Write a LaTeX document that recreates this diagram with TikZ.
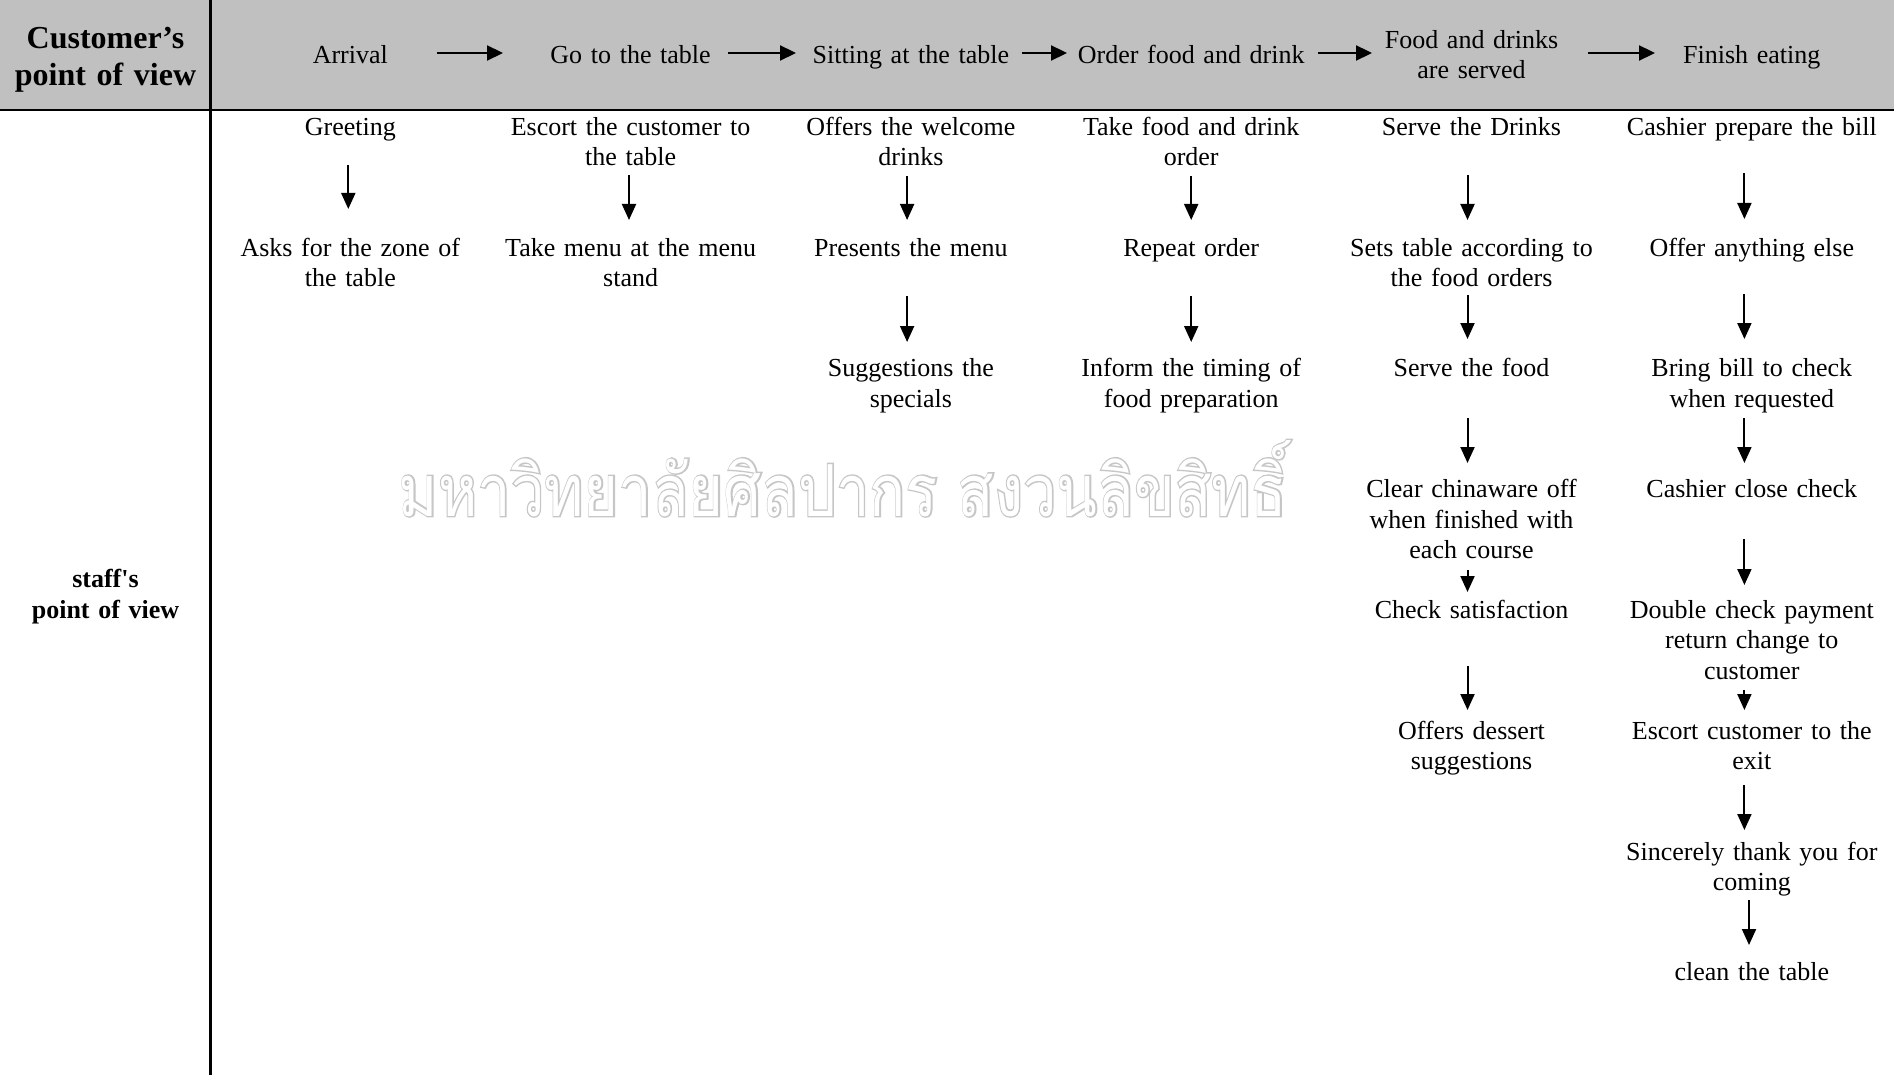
\documentclass[tikz,border=0pt]{standalone}
\usepackage{fontspec}
\usepackage{graphicx}
\setmainfont{Liberation Serif}
\newfontfamily\thaifont[Script=Thai]{Loma}
\newfontfamily\thaibold[Script=Thai,FakeBold=4]{Loma}
\usetikzlibrary{arrows.meta}
\definecolor{headgray}{HTML}{C0C0C0}
\definecolor{wmgray}{HTML}{C6C6C6}
\newcommand{\wmtext}{มหาวิทยาลัยศิลปากร สงวนลิขสิทธิ์}
\begin{document}
\begin{tikzpicture}[x=1pt,y=-1pt,
  stxt/.style={anchor=north, inner sep=0pt, text width=280pt, align=center,
    font=\fontsize{26}{30.5}\selectfont,
    execute at begin node=\strut, execute at end node=\strut},
  htxt/.style={stxt, anchor=center},
  lhead/.style={anchor=center, inner sep=0pt, text width=205pt, align=center,
    font=\bfseries\fontsize{32}{37}\selectfont,
    execute at begin node=\strut, execute at end node=\strut},
  lstaff/.style={lhead, font=\bfseries\fontsize{26}{30.5}\selectfont},
  varrow/.style={line width=2pt, -{Triangle[length=16pt,width=14pt]}},
  harrow/.style={line width=2.2pt, -{Triangle[length=16pt,width=15pt]}},
  tabline/.style={line width=2.3pt},
  wmark/.style={anchor=base, inner sep=0pt}
]
\useasboundingbox (0,0) rectangle (1894,1075);
% header band and table rules
\fill[headgray] (0,0) rectangle (1894,110);
\draw[tabline] (0,110) -- (1894,110);
\draw[tabline] (210.5,0) -- (210.5,1075);

% watermark (outlined letters: grey emboldened copy under a white copy)
\node[wmark, text=wmgray] (wm) at (843,516)
  {\resizebox{888pt}{76pt}{\thaibold\wmtext}};
\node[wmark, text=white] (wmin) at (843,516)
  {\resizebox{888pt}{76pt}{\thaifont\wmtext}};

% left column labels
\node[lhead] (cust) at (105.5,60) {Customer’s\\ point of view};
\node[lstaff] (staff) at (105.5,597) {staff\textquotesingle s\\ point of view};

% customer's steps
\node[htxt] (h1) at (350.3,57.6) {Arrival};
\node[htxt] (h2) at (630.6,57.6) {Go to the table};
\node[htxt] (h3) at (910.9,57.6) {Sitting at the table};
\node[htxt] (h4) at (1191.2,57.6) {Order food and drink};
\node[htxt] (h5) at (1471.5,57.6) {Food and drinks\\ are served};
\node[htxt] (h6) at (1751.8,57.6) {Finish eating};

\draw[harrow, shorten <=86.7pt, shorten >=127.6pt] ([yshift=4.6pt]h1.center) -- ([yshift=4.6pt]h2.center);
\draw[harrow, shorten <=97.4pt, shorten >=114.9pt] ([yshift=4.6pt]h2.center) -- ([yshift=4.6pt]h3.center);
\draw[harrow, shorten <=111.1pt, shorten >=124.2pt] ([yshift=4.6pt]h3.center) -- ([yshift=4.6pt]h4.center);
\draw[harrow, shorten <=126.8pt, shorten >=99.5pt] ([yshift=4.6pt]h4.center) -- ([yshift=4.6pt]h5.center);
\draw[harrow, shorten <=116.5pt, shorten >=96.8pt] ([yshift=4.6pt]h5.center) -- ([yshift=4.6pt]h6.center);

% column 1
\node[stxt] (a1) at (350.3,113.7) {Greeting};
\node[stxt] (a2) at (350.3,234.5) {Asks for the zone of\\ the table};
\draw[varrow, shorten <=20.8pt, shorten >=25.5pt] ([xshift=-2pt]a1.south) -- ([xshift=-2pt]a2.north);

% column 2
\node[stxt] (b1) at (630.6,113.7) {Escort the customer to\\ the table};
\node[stxt] (b2) at (630.6,234.5) {Take menu at the menu\\ stand};
\draw[varrow, shorten <=0.3pt, shorten >=14.5pt] ([xshift=-1.6pt]b1.south) -- ([xshift=-1.6pt]b2.north);

% column 3
\node[stxt] (c1) at (910.9,113.7) {Offers the welcome\\ drinks};
\node[stxt] (c2) at (910.9,234.5) {Presents the menu};
\node[stxt] (c3) at (910.9,355.3) {Suggestions the\\ specials};
\draw[varrow, shorten <=1.3pt, shorten >=14.5pt] ([xshift=-3.8pt]c1.south) -- ([xshift=-3.8pt]c2.north);
\draw[varrow, shorten <=31pt, shorten >=13.3pt] ([xshift=-3.8pt]c2.south) -- ([xshift=-3.8pt]c3.north);

% column 4
\node[stxt] (d1) at (1191.2,113.7) {Take food and drink\\ order};
\node[stxt] (d2) at (1191.2,234.5) {Repeat order};
\node[stxt] (d3) at (1191.2,355.3) {Inform the timing of\\ food preparation};
\draw[varrow, shorten <=1.3pt, shorten >=14.5pt] (d1.south) -- (d2.north);
\draw[varrow, shorten <=31pt, shorten >=13.3pt] (d2.south) -- (d3.north);

% column 5
\node[stxt] (e1) at (1471.5,113.7) {Serve the Drinks};
\node[stxt] (e2) at (1471.5,234.5) {Sets table according to\\ the food orders};
\node[stxt] (e3) at (1471.5,355.3) {Serve the food};
\node[stxt] (e4) at (1471.5,476.1) {Clear chinaware off\\ when finished with\\ each course};
\node[stxt] (e5) at (1471.5,596.9) {Check satisfaction};
\node[stxt] (e6) at (1471.5,717.7) {Offers dessert\\ suggestions};
\draw[varrow, shorten <=30.8pt, shorten >=14.5pt] ([xshift=-4pt]e1.south) -- ([xshift=-4pt]e2.north);
\draw[varrow, shorten <=-0.5pt, shorten >=16.3pt] ([xshift=-4pt]e2.south) -- ([xshift=-4pt]e3.north);
\draw[varrow, shorten <=32.2pt, shorten >=13.1pt] ([xshift=-4pt]e3.south) -- ([xshift=-4pt]e4.north);
\draw[varrow, shorten <=2.4pt, shorten >=4.9pt] ([xshift=-4pt]e4.south) -- ([xshift=-4pt]e5.north);
\draw[varrow, shorten <=38.6pt, shorten >=7.7pt] ([xshift=-4pt]e5.south) -- ([xshift=-4pt]e6.north);

% column 6
\node[stxt] (f1) at (1751.8,113.7) {Cashier prepare the bill};
\node[stxt] (f2) at (1751.8,234.5) {Offer anything else};
\node[stxt] (f3) at (1751.8,355.3) {Bring bill to check\\ when requested};
\node[stxt] (f4) at (1751.8,476.1) {Cashier close check};
\node[stxt] (f5) at (1751.8,596.9) {Double check payment\\ return change to\\ customer};
\node[stxt] (f6) at (1751.8,717.7) {Escort customer to the\\ exit};
\node[stxt] (f7) at (1751.8,838.5) {Sincerely thank you for\\ coming};
\node[stxt] (f8) at (1751.8,959.3) {clean the table};
\draw[varrow, shorten <=28.8pt, shorten >=15.5pt] ([xshift=-7.4pt]f1.south) -- ([xshift=-7.4pt]f2.north);
\draw[varrow, shorten <=29pt, shorten >=16.3pt] ([xshift=-7.4pt]f2.south) -- ([xshift=-7.4pt]f3.north);
\draw[varrow, shorten <=1.7pt, shorten >=13.1pt] ([xshift=-7.4pt]f3.south) -- ([xshift=-7.4pt]f4.north);
\draw[varrow, shorten <=32.4pt, shorten >=11.9pt] ([xshift=-7.4pt]f4.south) -- ([xshift=-7.4pt]f5.north);
\draw[varrow, shorten <=1.6pt, shorten >=7.7pt] ([xshift=-7.4pt]f5.south) -- ([xshift=-7.4pt]f6.north);
\draw[varrow, shorten <=6.3pt, shorten >=8.5pt] ([xshift=-7.4pt]f6.south) -- ([xshift=-7.4pt]f7.north);
\draw[varrow, shorten <=0.5pt, shorten >=14.3pt] ([xshift=-2.8pt]f7.south) -- ([xshift=-2.8pt]f8.north);
\end{tikzpicture}
\end{document}
